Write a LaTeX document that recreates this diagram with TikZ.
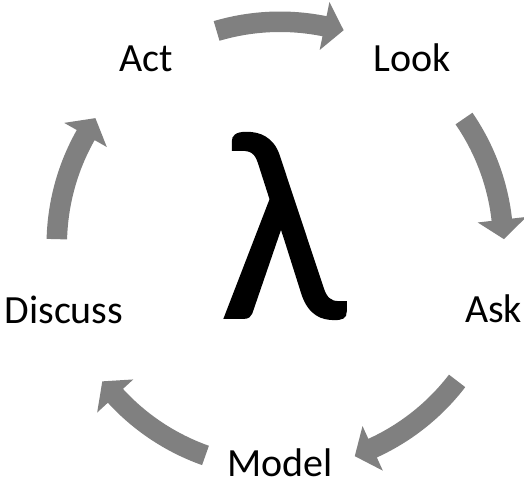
\documentclass[tikz,border=0pt]{standalone}
\usepackage{fontspec}
\setmainfont{Carlito}
\newfontface\lamface{Carlito}[FakeBold=0.6]
\usetikzlibrary{calc}
\definecolor{arrowgray}{RGB}{128,128,128}
\begin{document}
\begin{tikzpicture}[x=1pt,y=1pt,
  lbl/.style={font=\fontsize{40}{44}\selectfont, anchor=base, inner sep=0pt, text depth=0pt},
  bigsym/.style={font=\lamface\fontsize{272}{280}\selectfont, anchor=base, inner sep=0pt},
  blockarrow/.style={fill=arrowgray, draw=none}]
\useasboundingbox (0,0) rectangle (524,485);
\coordinate (c) at (280,240);
\foreach \m in {90,18,-54,-126,-198} {
  \pgfmathsetmacro\ta{\m+16.5}
  \pgfmathsetmacro\tb{\m-16.5}
  \pgfmathsetmacro\tc{\m-11.5}
  \fill[blockarrow] ($(c)+(\ta:233.5)$) arc[start angle=\ta, end angle=\tc, radius=233.5]
    -- ($(c)+(\tc:248)$) -- ($(c)+(\tb:224)$) -- ($(c)+(\tc:199)$)
    -- ($(c)+(\tc:213)$) arc[start angle=\tc, end angle=\ta, radius=213] -- cycle;
}
\node[lbl] (act) at (146.5,413) {Act};
\node[lbl] (look) at (412,413) {Look};
\node[lbl] (ask) at (493.5,163) {Ask};
\node[lbl] (model) at (280,9) {Model};
\node[lbl] (discuss) at (64,162) {Discuss};
\node[bigsym] (lambda) at (283,167) {λ};
\end{tikzpicture}
\end{document}
